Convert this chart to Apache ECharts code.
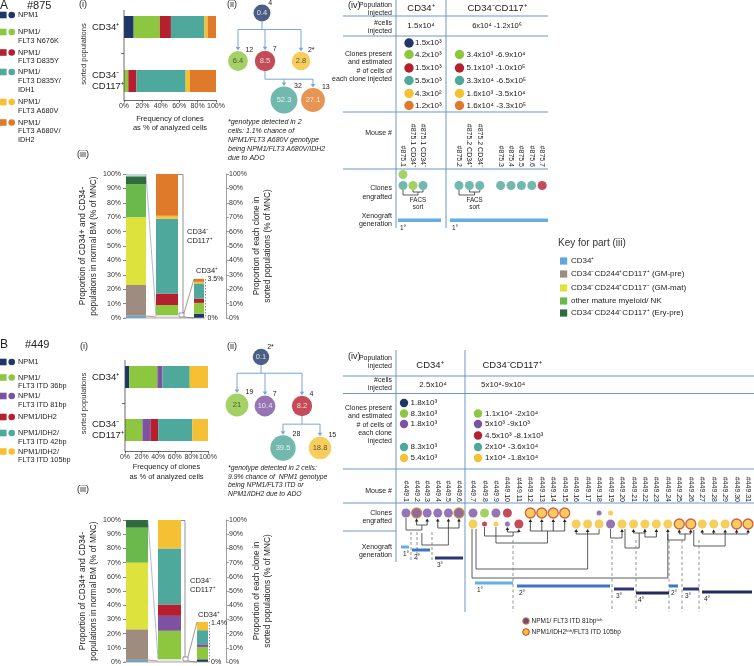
<!DOCTYPE html>
<html>
<head>
<meta charset="utf-8">
<script src="https://cdn.jsdelivr.net/npm/echarts@6/dist/echarts.min.js"></script>
<style>html,body{margin:0;padding:0;background:#fff;}#chart{width:754px;height:666px;}</style>
</head>
<body>
<div id="chart"></div>
<script>
// ======================= DATA =======================
// ---------- Panel A (#875) ----------
const aCloneNames = ['NPM1', 'NPM1/FLT3 N676K', 'NPM1/FLT3 D835Y', 'NPM1/FLT3 D835Y/IDH1', 'NPM1/FLT3 A680V', 'NPM1/FLT3 A680V/IDH2'];
const aLegendLines = [['NPM1'], ['NPM1/', 'FLT3 N676K'], ['NPM1/', 'FLT3 D835Y'], ['NPM1/', 'FLT3 D835Y/', 'IDH1'], ['NPM1/', 'FLT3 A680V'], ['NPM1/', 'FLT3 A680V/', 'IDH2']];
const sortedPops = ['CD34+', 'CD34-CD117+'];
const aFreqCD34 = [10.5, 28.5, 12, 36.5, 3.5, 9];
const aFreqCD117 = [0, 4.7, 8.8, 53.5, 4.6, 28.4];
const bmPopLabels = ['CD34⁺', 'CD34⁻CD244⁺CD117⁺ (GM-pre)', 'CD34⁻CD244⁺CD117⁻ (GM-mat)', 'other mature myeloid/ NK', 'CD34⁻CD244⁻CD117⁺ (Ery-pre)'];
const aNormalBM = [1.6, 21.4, 47, 23, 5.4, 1.6];
const aCD117Unsorted = 2;
const aCD117Clones = [0, 7, 8, 52, 2, 29];
const aCD34Clones = [3, 7.5, 3, 10.5, 1.1, 2.1];
const aCD34Share = '3.5%';
const aTreeVal = [0.4, 6.4, 8.5, 2.8, 52.3, 27.1];
const aTreeCells = ['4', '12', '7', '2*', '32', '13'];
const aTreeClone = [0, 1, 2, 4, 3, 5];
const aTreeParent = [-1, 0, 0, 0, 2, 2];
const aNote = ['*genotype detected in 2', 'cells: 1.1% chance of', 'NPM1/FLT3 A680V genotype', 'being NPM1/FLT3 A680V/IDH2', 'due to ADO'];
const aInjected = ['1.5x10⁴', '6x10⁴ -1.2x10⁶'];
const aEstCD34 = ['1.5x10³', '4.2x10³', '1.5x10³', '5.5x10³', '4.3x10²', '1.2x10³'];
const aEstCD117 = ['', '3.4x10³ -6.9x10⁴', '5.1x10³ -1.0x10⁵', '3.3x10⁴ -6.5x10⁵', '1.6x10³ -3.5x10⁴', '1.6x10⁴ -3.3x10⁵'];
const aMiceCD34 = ['#875.1', '#875.1 CD34⁺', '#875.1 CD34⁻'];
const aMiceCD117 = ['#875.2', '#875.2 CD34⁺', '#875.2 CD34⁻', '', '#875.3', '#875.4', '#875.5', '#875.6', '#875.7'];
const aEngCD34 = [['1', '3'], ['', '1'], ['', '3']];
const aEngCD117 = [['', '3'], ['', '3'], ['', '3'], ['', ''], ['', '3'], ['', '3'], ['', '3'], ['', '3'], ['', '2']];

// ---------- Panel B (#449) ----------
const bCloneNames = ['NPM1', 'NPM1/FLT3 ITD 36bp', 'NPM1/FLT3 ITD 81bp', 'NPM1/IDH2', 'NPM1/IDH2/FLT3 ITD 42bp', 'NPM1/IDH2/FLT3 ITD 105bp'];
const bLegendLines = [['NPM1'], ['NPM1/', 'FLT3 ITD 36bp'], ['NPM1/', 'FLT3 ITD 81bp'], ['NPM1/IDH2'], ['NPM1/IDH2/', 'FLT3 ITD 42bp'], ['NPM1/IDH2/', 'FLT3 ITD 105bp']];
const bFreqCD34 = [5, 34, 6, 0, 33, 22];
const bFreqCD117 = [0, 21, 9.6, 9.4, 41, 19];
const bNormalBM = [1.5, 21.5, 47, 24.6, 5.4];
const bCD117Unsorted = 2;
const bCD117Clones = [0, 20, 10.5, 8, 39.5, 20];
const bCD34Clones = [1.9, 8.7, 1.9, 0, 9.9, 5.8];
const bCD34Share = '1.4%';
const bTreeVal = [0.1, 21, 10.4, 8.2, 39.5, 18.8];
const bTreeCells = ['2*', '19', '7', '4', '28', '15'];
const bTreeClone = [0, 1, 2, 3, 4, 5];
const bTreeParent = [-1, 0, 0, 0, 3, 3];
const bNote = ['*genotype detected in 2 cells:', '9.9% chance of  NPM1 genotype', 'being NPM1/FLT3 ITD or', 'NPM1/IDH2 due to ADO'];
const bInjected = ['2.5x10⁴', '5x10⁴-9x10⁴'];
const bEstCD34 = ['1.8x10³', '8.3x10³', '1.8x10³', '', '8.3x10³', '5.4x10³'];
const bEstCD117 = ['', '1.1x10⁴ -2x10⁴', '5x10³ -9x10³', '4.5x10³ -8.1x10³', '2x10⁴ -3.6x10⁴', '1x10⁴ -1.8x10⁴'];
const bMiceCD34 = ['#449.1', '#449.2', '#449.3', '#449.4', '#449.5', '#449.6'];
const bMiceCD117 = ['#449.7', '#449.8', '#449.9', '#449.10', '#449.11', '#449.12', '#449.13', '#449.14', '#449.15', '#449.16', '#449.17', '#449.18', '#449.19', '#449.20', '#449.21', '#449.22', '#449.23', '#449.24', '#449.25', '#449.26', '#449.27', '#449.28', '#449.29', '#449.30', '#449.31'];
// code: clone index; suffix m = minor clone, L = loss of heterozygosity
const bEngCD34 = [['2', ''], ['2L', ''], ['2', ''], ['2', ''], ['2', ''], ['2L', '']];
const bEngCD117 = [['2', '5'], ['1', '3m'], ['2', '5m'], ['3', '2m'], ['', '3'], ['5L', ''], ['5L', ''], ['5L', ''], ['5L', ''], ['', '5'], ['', '5'], ['2m', '5'], ['5m', '2'], ['', '5'], ['', '5'], ['', '5'], ['', '5'], ['', '5'], ['', '5L'], ['', '5L'], ['', '5'], ['', '5'], ['', '5'], ['', '5L'], ['', '5L']];
const lohLegend = ['NPM1/ FLT3 ITD 81bpˡᵒʰ', 'NPM1/IDH2ˡᵒʰ/FLT3 ITD 105bp'];

// ======================= STYLE =======================
const FONT = '"Liberation Sans", Arial, Helvetica, sans-serif';
const C = {navy: '#1e3768', green: '#8dc63f', red: '#b51f2e', teal: '#4ea89b', yellow: '#f5c033', orange: '#e07a2b', purple: '#7c52a1', purpleLoh: '#6a4a86'};
const aColors = [C.navy, C.green, C.red, C.teal, C.yellow, C.orange];
const bColors = [C.navy, C.green, C.purple, C.red, C.teal, C.yellow];
const keyColors = ['#5ea8de', '#9e8c80', '#dde23d', '#6bb84c', '#2f6b3d', '#b9ddd5'];
const TBL = '#6d95c8';
const ARW = '#7ba4d8';
const GEN = {p1: '#63aee6', p2: '#3d77c2', p3: '#2c347a', p4: '#24285a'};
const popLabel = {'CD34+': 'CD34⁺', 'CD34-CD117+': 'CD34⁻\nCD117⁺'};

// ======================= HELPERS =======================
const grids = [], xAxes = [], yAxes = [], series = [], G = [];
function newGrid(box, xa, ya) {
  const i = grids.length;
  grids.push({left: box.left, top: box.top, width: box.width, height: box.height, containLabel: false});
  xa.gridIndex = i; ya.gridIndex = i; xAxes.push(xa); yAxes.push(ya);
  return i;
}
function txt(x, y, text, o) {
  o = o || {};
  G.push({type: 'text', x: x, y: y, rotation: o.rot || 0, z: 30, silent: true,
    style: {text: text, fill: o.color || '#222', font: (o.italic ? 'italic ' : '') + (o.size || 7) + 'px ' + FONT,
      textAlign: o.align || 'left', textVerticalAlign: o.va || 'middle'}});
}
function pl(pts, o) {
  o = o || {};
  G.push({type: 'polyline', z: o.z || 20, silent: true, shape: {points: pts},
    style: {stroke: o.color || '#333', lineWidth: o.w || 0.8, lineDash: o.dash || null, fill: null}});
}
function rect(x, y, w, h, fill, o) {
  o = o || {};
  G.push({type: 'rect', z: o.z || 20, silent: true, shape: {x: x, y: y, width: w, height: h},
    style: {fill: fill, stroke: o.stroke || null, lineWidth: o.lw || 0}});
}
function circ(cx, cy, r, fill, o) {
  o = o || {};
  G.push({type: 'circle', z: o.z || 21, silent: true, shape: {cx: cx, cy: cy, r: r},
    style: {fill: fill, stroke: o.stroke || null, lineWidth: o.lw || 0}});
}
function arrowDown(x, y1, y2, color) {
  pl([[x, y1], [x, y2 - 3]], {color: color, w: 1});
  G.push({type: 'polygon', z: 20, silent: true, shape: {points: [[x - 2.3, y2 - 3.6], [x + 2.3, y2 - 3.6], [x, y2]]}, style: {fill: color}});
}
function arrowUp(x, y1, y2, color) {
  color = color || '#222';
  pl([[x, y1], [x, y2 + 2.5]], {color: color, w: 0.8});
  G.push({type: 'polygon', z: 20, silent: true, shape: {points: [[x - 1.8, y2 + 3], [x + 1.8, y2 + 3], [x, y2]]}, style: {fill: color}});
}
function nodeR(v) { return 8 + 0.75 * Math.sqrt(v); }

// ======================= PANEL PIECES =======================
function legendBlock(lines, colors, ys) {
  lines.forEach(function (ls, k) {
    const y0 = ys[k];
    rect(0, y0 - 3.3, 6.6, 6.6, colors[k]);
    circ(11.7, y0, 3.3, colors[k]);
    ls.forEach(function (s, j) { txt(18, y0 + j * 8.8, s, {size: 7.3}); });
  });
}

// horizontal stacked frequency chart; axis lines drawn separately so that bars sit where they do in the figure
function freqChart(box, freq34, freq117, colors, names) {
  const gi = newGrid(box,
    {type: 'value', min: 0, max: 100, interval: 20, offset: box.xOffset,
      axisLine: {show: true, lineStyle: {color: '#444', width: 0.8}},
      axisTick: {show: true, length: 2.5, lineStyle: {color: '#444', width: 0.8}},
      axisLabel: {fontSize: 7, margin: 3, formatter: '{value}%', color: '#333'},
      splitLine: {show: false},
      name: 'Frequency of clones\nas % of analyzed cells', nameLocation: 'middle', nameGap: box.nameGap,
      nameTextStyle: {fontSize: 7.5, lineHeight: 9.5, color: '#222'}},
    {type: 'category', inverse: true, data: sortedPops,
      axisLine: {show: false}, axisTick: {show: false},
      axisLabel: {fontSize: 9.5, margin: box.left - 92, align: 'left', color: '#222', lineHeight: 11, formatter: function (v) { return popLabel[v]; }},
      name: 'sorted populations', nameLocation: 'middle', nameRotate: 90, nameGap: 36,
      nameTextStyle: {fontSize: 7.5, color: '#333'}});
  names.forEach(function (n, k) {
    series.push({type: 'bar', name: n, xAxisIndex: gi, yAxisIndex: gi, stack: 'f' + gi, barWidth: 22,
      data: [freq34[k], freq117[k]], itemStyle: {color: colors[k]}, silent: true});
  });
  const axY = box.top + box.height + box.xOffset;
  pl([[box.left, box.yLineTop], [box.left, axY]], {color: '#444'});
  const midY = box.top + box.height / 2;
  pl([[box.left - 3, midY], [box.left, midY]], {color: '#444'});
}

function stackBar(left, width, top, height, values, colors, yOpt) {
  const gi = newGrid({left: left, top: top, width: width, height: height},
    {type: 'category', data: [''], show: false},
    Object.assign({type: 'value', min: 0, max: 100, interval: 10, show: false, splitLine: {show: false}}, yOpt || {}));
  values.forEach(function (v, k) {
    if (v > 0) series.push({type: 'bar', xAxisIndex: gi, yAxisIndex: gi, stack: 's' + gi, barWidth: width,
      data: [v], itemStyle: {color: colors[k]}, silent: true});
  });
  return gi;
}
function leftAxis() {
  return {show: true, position: 'left', axisLine: {show: false},
    axisTick: {show: true, length: 3, lineStyle: {color: '#666', width: 0.8}},
    axisLabel: {fontSize: 7, margin: 5, formatter: '{value}%', color: '#333'},
    name: 'Proportion of CD34+ and CD34-\npopulations in normal BM (% of MNC)', nameLocation: 'middle', nameRotate: 90, nameGap: 27,
    nameTextStyle: {fontSize: 8.3, lineHeight: 11, color: '#222'}};
}
function rightAxis(offset) {
  return {show: true, position: 'right', offset: offset, axisLine: {show: true, lineStyle: {color: '#888', width: 0.8}},
    axisTick: {show: true, length: 3, lineStyle: {color: '#888', width: 0.8}},
    axisLabel: {fontSize: 7, margin: 3, formatter: '{value}%', color: '#333'},
    name: 'Proportion of each clone in\nsorted populations (% of MNC)', nameLocation: 'middle', nameRotate: 90, nameGap: 24,
    nameTextStyle: {fontSize: 8.3, lineHeight: 11, color: '#222'}};
}

function drawTree(ox, oy, layout, vals, cells, clones, parents, colors) {
  const gi = newGrid({left: ox, top: oy, width: 120, height: 130},
    {type: 'value', min: 0, max: 120, show: false, splitLine: {show: false}},
    {type: 'value', min: 0, max: 130, inverse: true, show: false, splitLine: {show: false}});
  const R = vals.map(nodeR);
  series.push({type: 'scatter', xAxisIndex: gi, yAxisIndex: gi, silent: true, z: 5,
    data: vals.map(function (v, k) {
      const col = colors[clones[k]];
      const dark = (col === C.green || col === C.yellow);
      return {value: [layout[k][0], layout[k][1]], symbolSize: 2 * R[k], itemStyle: {color: col}, label: {color: dark ? '#333' : '#fff'}};
    }),
    label: {show: true, position: 'inside', fontSize: 7.5, formatter: function (p) { return String(vals[p.dataIndex]); }}});
  const parentSet = Array.from(new Set(parents.filter(function (p) { return p >= 0; })));
  parentSet.forEach(function (p) {
    const kids = parents.map(function (q, k) { return q === p ? k : -1; }).filter(function (k) { return k >= 0; });
    const px = ox + layout[p][0], py = oy + layout[p][1];
    const busY = py + R[p] + 8;
    const xs = kids.map(function (k) { return ox + layout[k][0]; }).concat([px]);
    pl([[px, py + R[p]], [px, busY]], {color: ARW, w: 1});
    pl([[Math.min.apply(null, xs), busY], [Math.max.apply(null, xs), busY]], {color: ARW, w: 1});
    kids.forEach(function (k) {
      const cx = ox + layout[k][0], cy = oy + layout[k][1];
      arrowDown(cx, busY, cy - R[k] - 0.5, ARW);
    });
  });
  vals.forEach(function (v, k) {
    const cx = ox + layout[k][0], cy = oy + layout[k][1];
    txt(cx + 0.75 * R[k], cy - 0.8 * R[k], cells[k], {size: 7, va: 'bottom'});
  });
}

function engraftGrid(box, mice, eng, colors, sizes) {
  const gi = newGrid(box,
    {type: 'category', position: 'top', data: mice, axisLine: {show: false}, axisTick: {show: false}, splitLine: {show: false},
      axisLabel: {interval: 0, rotate: 90, fontSize: 7, margin: box.margin, color: '#222'}},
    {type: 'category', inverse: true, data: ['upper', 'lower'], show: false});
  const big = [], minor = [], loh = [];
  eng.forEach(function (pair, i) {
    pair.forEach(function (code, r) {
      if (!code) return;
      const k = parseInt(code, 10); const c = colors[k];
      if (code.slice(-1) === 'm') minor.push({value: [i, r], itemStyle: {color: c}});
      else if (code.slice(-1) === 'L') loh.push({value: [i, r], itemStyle: {color: k === 2 ? C.purpleLoh : c, borderColor: k === 2 ? C.orange : '#cc3a2a', borderWidth: 1.3}});
      else big.push({value: [i, r], itemStyle: {color: c}});
    });
  });
  series.push({type: 'scatter', xAxisIndex: gi, yAxisIndex: gi, symbolSize: sizes[0], data: big, silent: true});
  if (minor.length) series.push({type: 'scatter', xAxisIndex: gi, yAxisIndex: gi, symbolSize: sizes[1], data: minor, silent: true});
  if (loh.length) series.push({type: 'scatter', xAxisIndex: gi, yAxisIndex: gi, symbolSize: sizes[2], data: loh, silent: true});
  return gi;
}

// ======================= PANEL A =======================
txt(0, 6, 'A', {size: 12});
txt(27, 6, '#875', {size: 11});
txt(79, 5, '(i)', {size: 9});
txt(227, 5, '(ii)', {size: 9});
txt(77, 155, '(iii)', {size: 9});
txt(348, 6, '(iv)', {size: 9});
legendBlock(aLegendLines, aColors, [15, 32, 52.5, 72, 102, 122.5]);
freqChart({left: 124, top: -1, width: 92, height: 109, xOffset: -8, yLineTop: 10, nameGap: 14}, aFreqCD34, aFreqCD117, aColors, aCloneNames);

// (iii)
stackBar(126, 20, 174, 144, aNormalBM, keyColors, leftAxis());
stackBar(156, 22, 174, 144, [aCD117Unsorted].concat(aCD117Clones), ['#e8e8e8'].concat(aColors));
stackBar(194, 10, 174, 144, aCD34Clones, aColors, rightAxis(22));
pl([[124, 318], [205, 318]], {color: '#999'});
pl([[146, 174.5], [156, 316]], {color: '#8a9cc9', w: 0.7});
pl([[146, 316], [156, 317]], {color: '#d05050', w: 0.7});
pl([[178, 174.5], [183, 174.5], [183, 313]], {color: '#777'});
rect(179, 313, 5, 4, 'none', {stroke: '#555', lw: 0.6});
pl([[184, 313], [194, 279]], {color: '#555', w: 0.6});
pl([[184, 317], [194, 318]], {color: '#555', w: 0.6});
pl([[205.5, 279], [205.5, 318]], {color: '#777', dash: [1.5, 1.5]});
txt(207.5, 279, aCD34Share, {size: 7});
txt(207.5, 318, '0%', {size: 7});
txt(196, 271, 'CD34⁺', {size: 7.5});
txt(187, 232, 'CD34⁻', {size: 7.5});
txt(187, 241, 'CD117⁺', {size: 7.5});

// (ii)
drawTree(220, 0, [[42, 13], [18, 61], [45, 61], [81, 61], [64, 100], [93, 100]], aTreeVal, aTreeCells, aTreeClone, aTreeParent, aColors);
aNote.forEach(function (s, j) { txt(228, 122 + j * 9, s, {size: 7, italic: true}); });

// (iv) table
[[396, 0, 228], [446, 0, 228]].forEach(function (v) { pl([[v[0], v[1]], [v[0], v[2]]], {color: TBL, w: 1}); });
[16, 36, 112, 169].forEach(function (y) { pl([[343, y], [548, y]], {color: TBL, w: 1}); });
txt(392, 5, 'Population', {align: 'right'}); txt(392, 13, 'injected', {align: 'right'});
txt(421, 8, 'CD34⁺', {size: 9.5, align: 'center'});
txt(497, 8, 'CD34⁻CD117⁺', {size: 9.5, align: 'center'});
txt(392, 23, '#cells', {align: 'right'}); txt(392, 31, 'injected', {align: 'right'});
txt(421, 26, aInjected[0], {size: 8, align: 'center'});
txt(497, 26, aInjected[1], {size: 7.5, align: 'center'});
['Clones present', 'and estimated', '# of cells of', 'each clone injected'].forEach(function (s, j) { txt(392, 54 + j * 8.3, s, {align: 'right'}); });
const aRowY = [43, 54.5, 68, 80.5, 93.5, 105.5];
aEstCD34.forEach(function (s, k) { if (s) { circ(409, aRowY[k], 4.7, aColors[k]); txt(415, aRowY[k], s, {size: 8}); } });
aEstCD117.forEach(function (s, k) { if (s) { circ(459.5, aRowY[k], 4.7, aColors[k]); txt(466.5, aRowY[k], s, {size: 8}); } });
txt(392, 133, 'Mouse #', {align: 'right'});
engraftGrid({left: 398, top: 169, width: 30, height: 22, margin: 2}, aMiceCD34, aEngCD34, aColors, [9, 5, 10]);
engraftGrid({left: 453.8, top: 169, width: 93.6, height: 22, margin: 2}, aMiceCD117, aEngCD117, aColors, [9, 5, 10]);
txt(392, 188, 'Clones', {align: 'right'}); txt(392, 197, 'engrafted', {align: 'right'});
function facs(xa, xb, xc) {
  const xm = (xb + xc) / 2;
  pl([[xa, 190], [xa, 195], [xm, 195], [xm, 192]], {color: '#333'});
  pl([[xb, 190], [xb, 192], [xc, 192], [xc, 190]], {color: '#333'});
  txt(xm, 200, 'FACS', {size: 6.3, align: 'center'});
  txt(xm, 207, 'sort', {size: 6.3, align: 'center'});
}
facs(403, 413, 423);
facs(459, 469.4, 479.8);
txt(392, 216, 'Xenograft', {align: 'right'}); txt(392, 224, 'generation', {align: 'right'});
rect(398, 218.5, 43, 3.5, GEN.p1);
rect(450, 218.5, 98, 3.5, GEN.p1);
txt(400, 228, '1°', {size: 6.5}); txt(452, 228, '1°', {size: 6.5});

// Key for part (iii)
txt(558, 243, 'Key for part (iii)', {size: 10, color: '#333'});
[261, 274, 288, 301, 313].forEach(function (y, k) { rect(560, y - 3.6, 7.2, 7.2, keyColors[k]); txt(571, y, bmPopLabels[k], {size: 8}); });

// ======================= PANEL B =======================
txt(0, 345, 'B', {size: 12});
txt(25, 345, '#449', {size: 11});
txt(80, 347, '(i)', {size: 9});
txt(227, 347, '(ii)', {size: 9});
txt(77, 490, '(iii)', {size: 9});
txt(348, 357, '(iv)', {size: 9});
legendBlock(bLegendLines, bColors, [362, 377.5, 396, 417, 433, 451.5]);
freqChart({left: 125, top: 350.5, width: 83, height: 106, xOffset: -5.5, yLineTop: 360, nameGap: 11.5}, bFreqCD34, bFreqCD117, bColors, bCloneNames);

// (iii)
stackBar(126, 22, 520, 142, bNormalBM, keyColors, leftAxis());
stackBar(158, 23, 520, 142, [bCD117Unsorted].concat(bCD117Clones), ['#e8e8e8'].concat(bColors));
stackBar(197, 11, 520, 142, bCD34Clones, bColors, rightAxis(18));
pl([[124, 662], [209, 662]], {color: '#999'});
pl([[148, 520.5], [158, 659]], {color: '#8a9cc9', w: 0.7});
pl([[148, 660], [158, 661]], {color: '#d05050', w: 0.7});
pl([[181, 520.5], [185, 520.5], [185, 657]], {color: '#777'});
rect(183, 657, 5, 4, 'none', {stroke: '#555', lw: 0.6});
pl([[188, 657], [197, 622]], {color: '#555', w: 0.6});
pl([[188, 661], [197, 662]], {color: '#555', w: 0.6});
pl([[209.5, 622], [209.5, 662]], {color: '#777', dash: [1.5, 1.5]});
txt(211, 623, bCD34Share, {size: 7});
txt(211, 662, '0%', {size: 7});
txt(198, 615, 'CD34⁺', {size: 7.5});
txt(190, 581, 'CD34⁻', {size: 7.5});
txt(190, 590, 'CD117⁺', {size: 7.5});

// (ii)
drawTree(220, 340, [[41, 17], [17, 65], [45, 66], [82, 66], [63, 108], [100, 108]], bTreeVal, bTreeCells, bTreeClone, bTreeParent, bColors);
bNote.forEach(function (s, j) { txt(228, 468 + j * 8.8, s, {size: 6.8, italic: true}); });

// (iv) table
pl([[396, 350], [396, 562]], {color: TBL, w: 1});
pl([[465, 350], [465, 612]], {color: TBL, w: 1});
[376, 393.5, 469, 503].forEach(function (y) { pl([[343, y], [754, y]], {color: TBL, w: 1}); });
pl([[343, 531], [396, 531]], {color: TBL, w: 1});
txt(392, 358, 'Population', {align: 'right'}); txt(392, 366, 'injected', {align: 'right'});
txt(430, 365, 'CD34⁺', {size: 9.5, align: 'center'});
txt(512, 365, 'CD34⁻CD117⁺', {size: 9.5, align: 'center'});
txt(392, 380.5, '#cells', {align: 'right'}); txt(392, 388.5, 'injected', {align: 'right'});
txt(433, 385, bInjected[0], {size: 8, align: 'center'});
txt(481, 385, bInjected[1], {size: 8});
['Clones present', 'and estimated', '# of cells of', 'each clone', 'injected'].forEach(function (s, j) { txt(392, 408 + j * 8.3, s, {align: 'right'}); });
const bRowY = [403, 413.5, 424, 435.5, 447, 458];
bEstCD34.forEach(function (s, k) { if (s) { circ(404, bRowY[k], 4.2, bColors[k]); txt(410.5, bRowY[k], s, {size: 8}); } });
bEstCD117.forEach(function (s, k) { if (s) { circ(478, bRowY[k], 4.2, bColors[k]); txt(485, bRowY[k], s, {size: 8}); } });
txt(392, 491, 'Mouse #', {align: 'right'});
engraftGrid({left: 400.7, top: 507.5, width: 63.6, height: 22, margin: 5.5}, bMiceCD34, bEngCD34, bColors, [9, 5, 10]);
engraftGrid({left: 467.3, top: 507.5, width: 286.5, height: 22, margin: 5.5}, bMiceCD117, bEngCD117, bColors, [9, 5, 10]);
txt(392, 513, 'Clones', {align: 'right'}); txt(392, 521.5, 'engrafted', {align: 'right'});
txt(392, 547, 'Xenograft', {align: 'right'}); txt(392, 555, 'generation', {align: 'right'});

// lineage lines (CD34+ column)
function p1(i) { return 400.7 + 10.6 * (i + 0.5); }
function p2(i) { return 467.3 + 11.46 * (i + 0.5); }
pl([[p1(0), 518], [p1(0), 530], [(p1(1) + p1(2)) / 2, 530], [(p1(1) + p1(2)) / 2, 525]]);
pl([[p1(1), 525], [p1(2), 525]]);
arrowUp(p1(1), 525, 518.5); arrowUp(p1(2), 525, 518.5);
pl([[(p1(1) + p1(2)) / 2, 533], [(p1(1) + p1(2)) / 2, 545], [p1(4), 545], [p1(4), 528]]);
pl([[p1(3), 528], [p1(5), 528]]);
[3, 4, 5].forEach(function (i) { arrowUp(p1(i), 528, 518.5); });
[411, 417, 432].forEach(function (x) { pl([[x, 532], [x, 560]], {color: '#777', dash: [3, 2]}); });
// lineage lines (CD34-CD117+ column)
pl([[p2(0) - 1, 529], [p2(0) - 1, 578], [p2(17), 578], [p2(17), 534]]);
arrowUp(p2(17), 534, 529);
pl([[p2(0) + 3, 529], [p2(0) + 3, 569], [p2(10), 569], [p2(10), 534]]);
arrowUp(p2(10), 534, 529);
pl([[p2(1), 527], [p2(1), 536], [(p2(3) + p2(4)) / 2, 536], [(p2(3) + p2(4)) / 2, 532]]);
pl([[p2(3), 532], [p2(4), 532]]);
arrowUp(p2(3), 532, 527); arrowUp(p2(4), 532, 529);
pl([[p2(2), 527], [p2(2), 543], [(p2(5) + p2(8)) / 2, 543], [(p2(5) + p2(8)) / 2, 531]]);
pl([[p2(5), 531], [p2(8), 531]]);
[5, 6, 7, 8].forEach(function (i) { arrowUp(p2(i), 531, 519); });
pl([[p2(9), 534], [p2(11), 534], [p2(11), 529]]);
arrowUp(p2(9), 534, 529);
pl([[p2(12), 529], [p2(12), 538], [p2(13), 538]]);
arrowUp(p2(13), 538, 529);
pl([[p2(13) + 3, 529], [p2(13) + 3, 548], [(p2(14) + p2(15)) / 2, 548], [(p2(14) + p2(15)) / 2, 533]]);
pl([[p2(14), 533], [p2(15), 533]]);
arrowUp(p2(14), 533, 529); arrowUp(p2(15), 533, 529);
pl([[p2(15), 529], [p2(15), 537], [p2(16), 537]]);
arrowUp(p2(16), 537, 529);
pl([[p2(17), 534], [p2(17), 540], [(p2(18) + p2(19)) / 2, 540], [(p2(18) + p2(19)) / 2, 534]]);
pl([[p2(18), 534], [p2(19), 534]]);
arrowUp(p2(18), 534, 529.5); arrowUp(p2(19), 534, 529.5);
pl([[p2(19) + 3, 530], [p2(19) + 3, 546], [p2(22), 546], [p2(22), 534]]);
pl([[p2(20), 534], [p2(24), 534]]);
[20, 21, 22, 23, 24].forEach(function (i) { arrowUp(p2(i), 534, 529.5); });
[513, 612, 636, 669, 682, 699].forEach(function (x) { pl([[x, 540], [x, 612]], {color: '#777', dash: [3, 2.5]}); });

// xenograft generations
const gens = [[401, 409, 547, GEN.p1, '1°'], [412, 430, 550, GEN.p2, '2°'], [435, 463, 558, GEN.p3, '3°'],
  [475, 513, 583, GEN.p1, '1°'], [517, 610, 586, GEN.p2, '2°'], [614, 634, 589, GEN.p3, '3°'], [636, 669, 593, GEN.p4, '4°'],
  [669, 678, 586, GEN.p2, '2°'], [683, 699, 589, GEN.p3, '3°'], [702, 752, 592, GEN.p4, '4°']];
gens.forEach(function (g) { rect(g[0], g[2] - 1.5, g[1] - g[0], 3, g[3]); txt(g[0] + 2, g[2] + 7, g[4], {size: 6.5}); });

// loh legend
circ(526, 621, 3.3, C.purpleLoh, {stroke: C.orange, lw: 1});
txt(531.5, 621, lohLegend[0], {size: 6.5});
circ(526, 632, 3.3, C.yellow, {stroke: '#cc3a2a', lw: 1});
txt(531.5, 632, lohLegend[1], {size: 6.5});

// ======================= RENDER =======================
const chart = echarts.init(document.getElementById('chart'));
chart.setOption({
  animation: false,
  textStyle: {fontFamily: FONT},
  grid: grids, xAxis: xAxes, yAxis: yAxes, series: series,
  graphic: {elements: G}
});
</script>
</body>
</html>
